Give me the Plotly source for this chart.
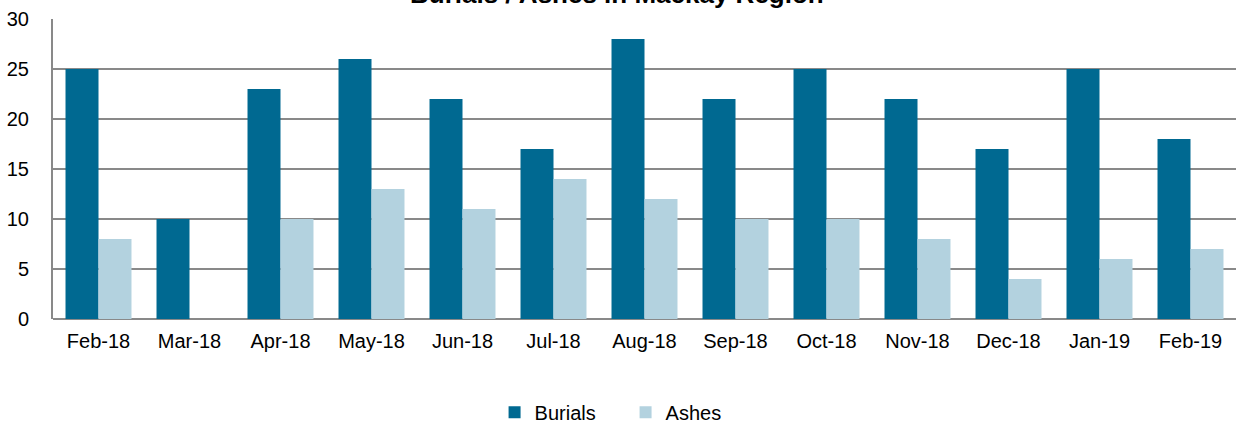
import plotly.graph_objects as go

months = ["Feb-18", "Mar-18", "Apr-18", "May-18", "Jun-18", "Jul-18", "Aug-18",
          "Sep-18", "Oct-18", "Nov-18", "Dec-18", "Jan-19", "Feb-19"]
burials = [25, 10, 23, 26, 22, 17, 28, 22, 25, 22, 17, 25, 18]
ashes = [8, 0, 10, 13, 11, 14, 12, 10, 10, 8, 4, 6, 7]
y_ticks = [0, 5, 10, 15, 20, 25, 30]

FONT = "Liberation Sans, Arial, sans-serif"

fig = go.Figure()
fig.add_trace(go.Bar(x=months, y=burials, name="Burials",
                     marker=dict(color="#006991", line=dict(width=0))))
fig.add_trace(go.Bar(x=months, y=ashes, name="Ashes",
                     marker=dict(color="#B3D2DF", line=dict(width=0))))

fig.update_layout(
    width=1236, height=425,
    margin=dict(l=53, r=0, t=19, b=106, pad=0, autoexpand=False),
    paper_bgcolor="white", plot_bgcolor="white",
    barmode="group", bargap=0.275, bargroupgap=0,
    font=dict(family=FONT, size=20, color="#000000"),
    showlegend=True,
    legend=dict(orientation="h", x=0.484, xref="paper", xanchor="center",
                y=0.03, yref="container", yanchor="middle", font=dict(size=20),
                entrywidth=86, itemwidth=30, tracegroupgap=0),
    annotations=[dict(text="<b>Burials / Ashes in Mackay Region</b>",
                      xref="paper", yref="paper", x=0.477, y=1.0,
                      yshift=8, yanchor="bottom", showarrow=False,
                      font=dict(size=26, family=FONT, color="#000000"))],
)
fig.update_xaxes(showline=False, showgrid=False, ticks="", tickfont=dict(size=20),
                 ticklabelstandoff=8, automargin=False)
fig.update_yaxes(range=[0, 30], tickvals=y_ticks, showgrid=True,
                 gridcolor="#898989", gridwidth=2, showline=True,
                 linecolor="#898989", linewidth=2, zeroline=True,
                 zerolinecolor="#898989", zerolinewidth=2,
                 ticks="", tickfont=dict(size=20), ticklabelstandoff=18,
                 automargin=False)

fig.write_html("out.html")
